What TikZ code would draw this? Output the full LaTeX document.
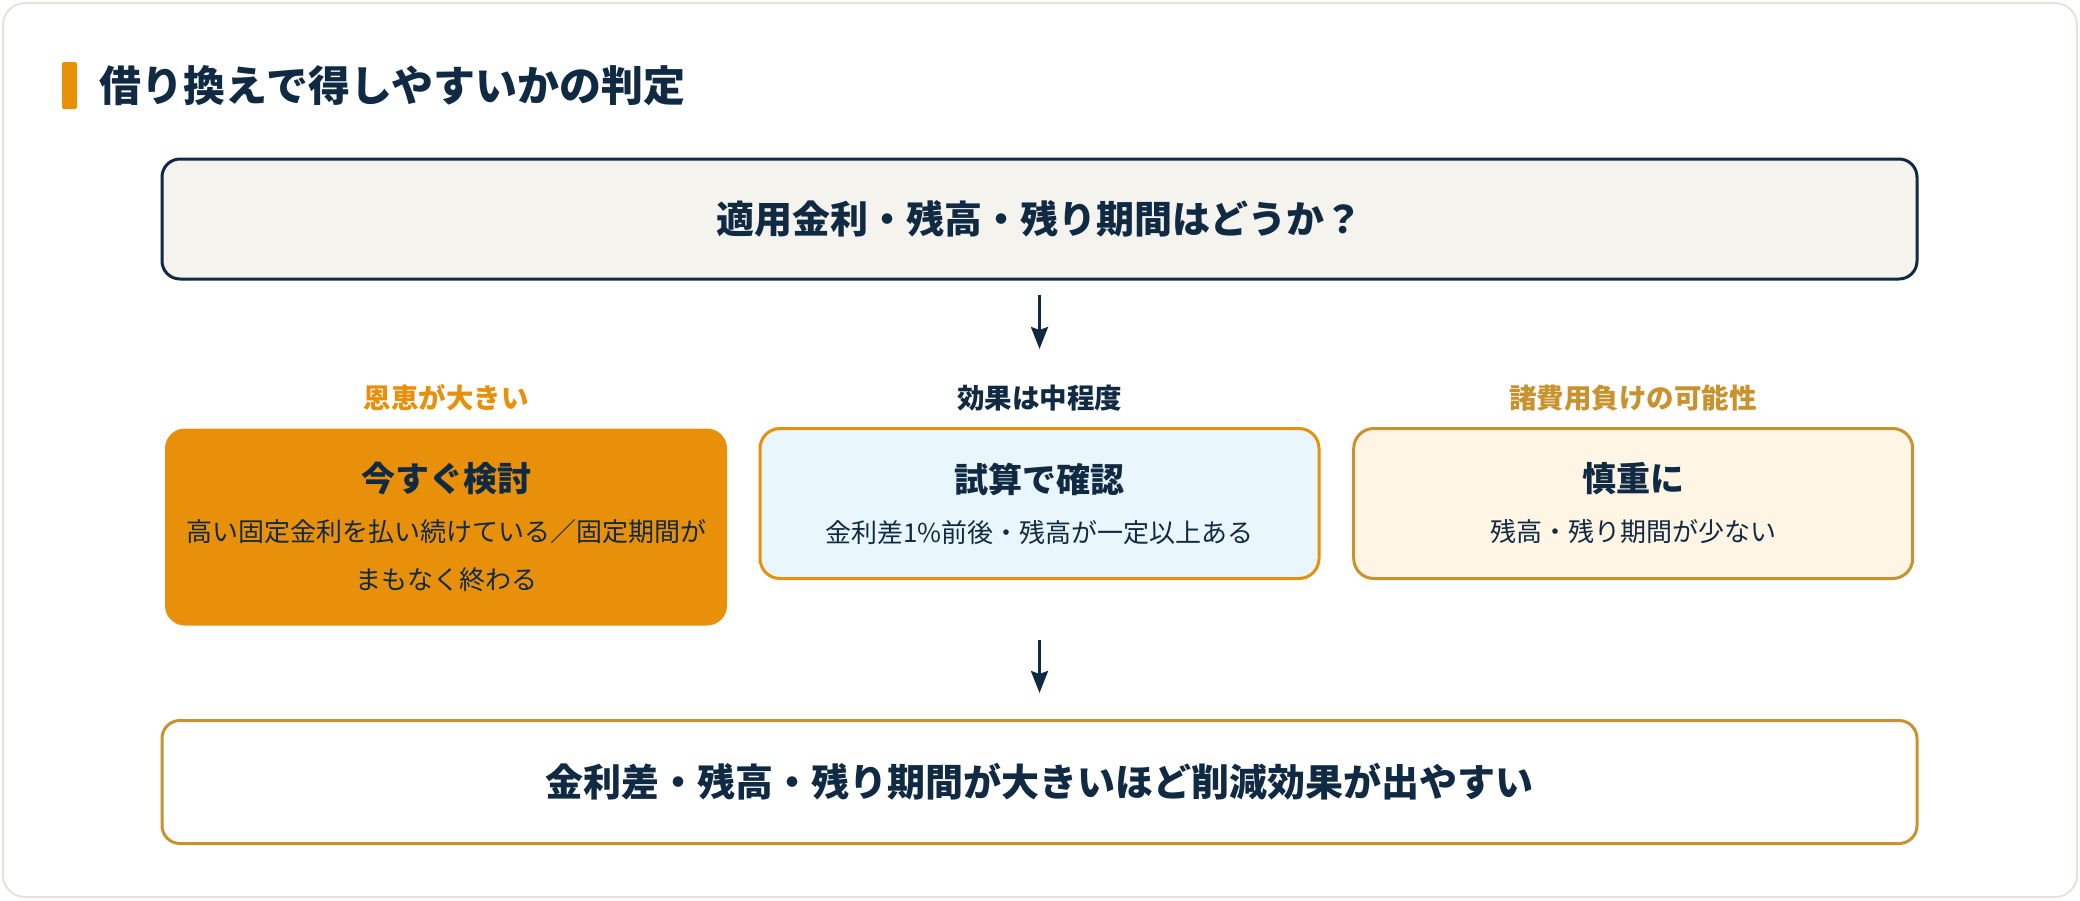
\documentclass[tikz,border=0pt]{standalone}
\usepackage{fontspec}
\setmainfont{Noto Sans CJK JP}
\usetikzlibrary{arrows.meta, positioning}
\definecolor{navy}{HTML}{102A43}
\definecolor{amber}{HTML}{E8900A}
\definecolor{gold}{HTML}{C8922E}
\definecolor{paper}{HTML}{F5F3EE}
\definecolor{cardline}{HTML}{E6E3D8}
\definecolor{skyfill}{HTML}{E9F7FC}
\definecolor{creamfill}{HTML}{FFF5E4}
\tikzstyle{question} = [rectangle, rounded corners=18pt, minimum width=1755pt, minimum height=120pt, text centered, draw=navy, line width=3pt, fill=paper, text=navy, font=\bfseries\fontsize{38}{46}\selectfont]
\tikzstyle{choice} = [rectangle, rounded corners=20pt, minimum width=559pt, text width=540pt, align=center, line width=3pt, text=navy, font=\fontsize{26}{48}\selectfont]
\tikzstyle{tag} = [inner sep=0pt, font=\bfseries\fontsize{27.5}{32}\selectfont]
\tikzstyle{arrow} = [line width=3pt, draw=navy, -{Stealth[length=22pt, width=17pt, inset=3pt]}]
\newcommand{\boxhead}[1]{{\bfseries\fontsize{34}{48}\selectfont #1}}

\begin{document}
\begin{tikzpicture}[x=1pt, y=1pt]
\useasboundingbox (0,0) rectangle (2080,-900);
\draw [cardline, fill=white, line width=2pt, rounded corners=22pt] (3,-3) rectangle (2077,-897);

% Heading
\node (bar) [rectangle, rounded corners=2pt, fill=amber, minimum width=15pt, minimum height=47pt, inner sep=0pt] at (69.5,-85.5) {};
\node (heading) [right=22pt of bar, inner sep=0pt, text=navy, font=\bfseries\fontsize{42}{50}\selectfont] {借り換えで得しやすいかの判定};

% Question
\node (ask) [question] at (1039.5,-219) {適用金利・残高・残り期間はどうか？};

% Row of outcomes
\node (check) [choice, minimum height=150pt, draw=amber, fill=skyfill, below=146.5pt of ask] {\boxhead{試算で確認}\\[2pt]金利差1\%前後・残高が一定以上ある};
\node (now) [choice, minimum width=562pt, minimum height=197pt, fill=amber, anchor=north east] at ([xshift=-30pt]check.north west) {\boxhead{今すぐ検討}\\[2pt]高い固定金利を払い続けている／固定期間が\\まもなく終わる};
\node (careful) [choice, minimum height=150pt, draw=gold, fill=creamfill, anchor=north west] at ([xshift=31.7pt]check.north east) {\boxhead{慎重に}\\[2pt]残高・残り期間が少ない};

% Tags
\node (bigtag) [tag, text=amber, above=16pt of now] {恩恵が大きい};
\node (midtag) [tag, text=navy, above=16pt of check] {効果は中程度};
\node (costtag) [tag, text=gold, above=16pt of careful] {諸費用負けの可能性};

% Conclusion
\node (result) [question, draw=gold, fill=white, minimum height=123pt, font=\bfseries\fontsize{38}{46}\selectfont, below=139pt of check] {金利差・残高・残り期間が大きいほど削減効果が出やすい};

% Draw Arrows
\draw [arrow, shorten <=14pt, shorten >=78pt] (ask.south) -- (check.north);
\draw [arrow, shorten <=60pt, shorten >=26pt] (check.south) -- (result.north);

\end{tikzpicture}
\end{document}
